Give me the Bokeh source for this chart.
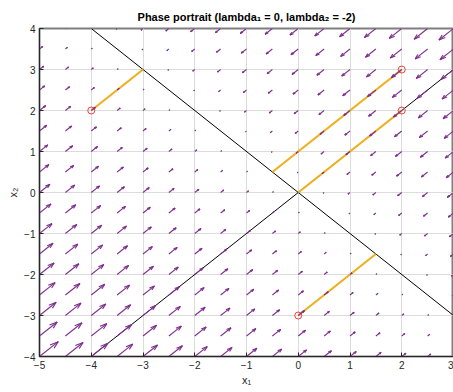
import numpy as np
from bokeh.plotting import figure
from bokeh.models import Range1d, FixedTicker
from bokeh.embed import file_html
from bokeh.resources import INLINE

# ---- data ----
A = [[-1.0, -1.0], [-1.0, -1.0]]          # system matrix (lambda1 = 0, lambda2 = -2)
grid_x = [-5, -4.5, -4, -3.5, -3, -2.5, -2, -1.5, -1, -0.5, 0, 0.5, 1, 1.5, 2, 2.5, 3]
grid_y = [-4, -3.5, -3, -2.5, -2, -1.5, -1, -0.5, 0, 0.5, 1, 1.5, 2, 2.5, 3, 3.5, 4]

eig1_x = [-4, 3]; eig1_y = [-4, 3]        # eigenvector direction (1, 1)
eig2_x = [-4, 3]; eig2_y = [4, -3]        # eigenvector direction (1, -1)

traj_start_x = [-4, 2, 2, 0]
traj_start_y = [2, 3, 2, -3]
traj_end_x = [-3, -0.5, 0, 1.5]
traj_end_y = [3, 0.5, 0, -1.5]

x_ticks = [-5, -4, -3, -2, -1, 0, 1, 2, 3]
y_ticks = [-4, -3, -2, -1, 0, 1, 2, 3, 4]

PURPLE = "#7E2F8E"
ORANGE = "#EDB120"
AXC = "#262626"
FONT = "Liberation Sans"

p = figure(width=453, height=388, output_backend="svg", toolbar_location=None,
           x_range=Range1d(-5, 3), y_range=Range1d(-4, 4),
           min_border_left=39, min_border_right=0, min_border_top=28, min_border_bottom=4)
p.title.text = "Phase portrait (lambda\u2081 = 0, lambda\u2082 = -2)"
p.title.align = "center"
p.title.vertical_align = "middle"
p.title.text_font = FONT
p.title.text_font_size = "11px"
p.title.text_font_style = "bold"
p.title.text_color = "#000000"

for ax, ticks, lab in ((p.xaxis[0], x_ticks, "x\u2081"), (p.yaxis[0], y_ticks, "x\u2082")):
    ax.ticker = FixedTicker(ticks=ticks)
    ax.axis_label = lab
    ax.axis_label_text_font = FONT
    ax.axis_label_text_font_size = "11px"
    ax.axis_label_text_font_style = "normal"
    ax.axis_label_text_color = AXC
    ax.axis_label_standoff = 2
    ax.major_label_text_font = FONT
    ax.major_label_text_font_size = "10px"
    ax.major_label_text_color = AXC
    ax.major_label_standoff = 4
    ax.major_tick_in = 4
    ax.major_tick_out = 0
    ax.minor_tick_in = 0
    ax.minor_tick_out = 0
    ax.axis_line_color = AXC
    ax.major_tick_line_color = AXC

p.xgrid.ticker = FixedTicker(ticks=x_ticks)
p.ygrid.ticker = FixedTicker(ticks=y_ticks)
p.grid.grid_line_color = "#dcdcdc"
p.outline_line_color = "#7f7f7f"
p.outline_line_width = 2
p.outline_line_alpha = 1.0

# eigenvector lines
p.line(eig1_x, eig1_y, line_color="black", line_width=1)
p.line(eig2_x, eig2_y, line_color="black", line_width=1)

# trajectories
p.segment(traj_start_x, traj_start_y, traj_end_x, traj_end_y, line_color=ORANGE, line_width=2.2)
p.scatter(traj_start_x, traj_start_y, marker="circle", size=7, fill_color=None,
          line_color="#f03c3c", line_width=1)

# quiver field
X, Y = np.meshgrid(np.array(grid_x, float), np.array(grid_y, float))
Am = np.array(A)
U = Am[0, 0] * X + Am[0, 1] * Y
V = Am[1, 0] * X + Am[1, 1] * Y
n_rows, n_cols = X.shape
delx = (X.max() - X.min()) / n_cols
dely = (Y.max() - Y.min()) / n_rows
lens = np.sqrt((U ** 2 + V ** 2) / (delx ** 2 + dely ** 2))
scale = 0.77 / lens.max()
u = (U * scale).ravel(); v = (V * scale).ravel()
x0 = X.ravel(); y0 = Y.ravel()
alpha, beta = 0.33, 0.33
tx = x0 + u; ty = y0 + v
p.segment(x0, y0, tx, ty, line_color=PURPLE, line_width=1.1)
h1x = tx - alpha * (u + beta * (v + 1e-12)); h1y = ty - alpha * (v - beta * (u + 1e-12))
h2x = tx - alpha * (u - beta * (v + 1e-12)); h2y = ty - alpha * (v + beta * (u + 1e-12))
p.segment(h1x, h1y, tx, ty, line_color=PURPLE, line_width=1.1)
p.segment(h2x, h2y, tx, ty, line_color=PURPLE, line_width=1.1)

open("out.html", "w").write(file_html(p, INLINE))
